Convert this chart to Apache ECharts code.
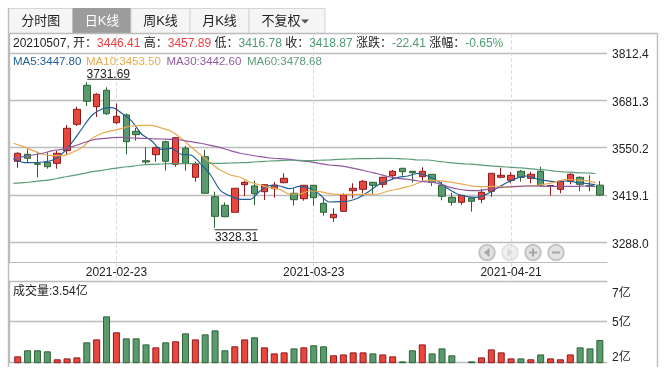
<!DOCTYPE html>
<html>
<head>
<meta charset="utf-8">
<style>
  html, body { margin: 0; padding: 0; background: #fff; }
  #main { width: 665px; height: 374px; }
</style>
<script src="https://cdn.jsdelivr.net/npm/echarts@6/dist/echarts.min.js"></script>
</head>
<body>
<div id="main"></div>
<script>
const dates = [
  '2021-02-02','2021-02-03','2021-02-04','2021-02-05','2021-02-08','2021-02-09','2021-02-10','2021-02-18','2021-02-19','2021-02-22',
  '2021-02-23','2021-02-24','2021-02-25','2021-02-26','2021-03-01','2021-03-02','2021-03-03','2021-03-04','2021-03-05','2021-03-08',
  '2021-03-09','2021-03-10','2021-03-11','2021-03-12','2021-03-15','2021-03-16','2021-03-17','2021-03-18','2021-03-19','2021-03-22',
  '2021-03-23','2021-03-24','2021-03-25','2021-03-26','2021-03-29','2021-03-30','2021-03-31','2021-04-01','2021-04-02','2021-04-06',
  '2021-04-07','2021-04-08','2021-04-09','2021-04-12','2021-04-13','2021-04-14','2021-04-15','2021-04-16','2021-04-19','2021-04-20',
  '2021-04-21','2021-04-22','2021-04-23','2021-04-26','2021-04-27','2021-04-28','2021-04-29','2021-04-30','2021-05-06','2021-05-07'
]
const dateLabels = ['2021-02-23', '2021-03-23', '2021-04-21']

// open, close, low, high
const kline = [
  [3512.6,3534.8,3494.8,3537.5],[3532.0,3520.9,3508.7,3545.8],[3505.9,3504.2,3468.2,3539.2],[3509.8,3497.6,3492.1,3537.5],
  [3507.0,3534.8,3492.1,3542.0],[3542.0,3604.1,3530.0,3613.2],[3615.1,3656.7,3610.4,3663.9],[3723.2,3678.9,3665.9,3731.69],
  [3663.9,3698.3,3635.4,3701.1],[3709.4,3644.5,3640.9,3717.7],[3619.6,3637.3,3616.0,3672.8],[3640.9,3566.9,3532.0,3645.1],
  [3595.7,3586.3,3569.7,3604.9],[3514.2,3510.6,3502.3,3551.4],[3530.9,3550.3,3511.5,3553.1],[3566.9,3512.6,3486.5,3569.7],
  [3504.2,3578.0,3497.6,3579.1],[3548.6,3507.0,3486.5,3555.0],[3468.2,3504.2,3456.0,3511.5],[3525.3,3423.9,3423.9,3543.9],
  [3414.4,3360.0,3328.31,3428.3],[3390.6,3359.0,3357.3,3398.9],[3371.2,3437.7,3370.6,3438.5],[3447.7,3454.4,3416.4,3458.8],
  [3444.1,3422.8,3391.4,3458.8],[3428.3,3447.7,3405.3,3448.3],[3436.6,3446.9,3411.7,3455.2],[3453.3,3465.5,3451.6,3479.3],
  [3423.9,3406.1,3389.5,3437.7],[3408.9,3446.0,3403.4,3446.9],[3446.0,3411.7,3389.5,3446.9],[3396.1,3371.2,3361.8,3412.8],
  [3356.2,3365.6,3345.2,3382.3],[3373.9,3419.2,3373.4,3423.9],[3431.1,3437.7,3410.0,3451.6],[3434.9,3457.1,3423.9,3460.7],
  [3454.4,3446.0,3421.9,3455.2],[3448.8,3468.2,3439.4,3469.9],[3472.7,3484.9,3462.7,3488.5],[3493.2,3483.7,3472.7,3494.0],
  [3484.9,3481.0,3453.3,3485.7],[3469.9,3484.9,3458.8,3495.9],[3476.5,3454.4,3444.1,3477.4],[3446.0,3415.6,3404.5,3456.0],
  [3412.8,3398.9,3389.5,3425.5],[3398.9,3418.3,3392.3,3419.2],[3410.8,3401.7,3372.9,3411.7],[3407.2,3426.6,3396.1,3435.8],
  [3429.4,3479.3,3414.4,3480.1],[3468.2,3473.8,3465.4,3494.8],[3459.9,3473.8,3451.6,3482.1],[3484.9,3468.2,3456.0,3488.5],
  [3465.4,3476.5,3451.6,3483.7],[3484.9,3446.0,3442.2,3497.6],[3444.1,3445.5,3417.2,3446.0],[3434.9,3457.1,3423.9,3458.0],
  [3457.1,3476.5,3448.8,3479.3],[3468.2,3448.8,3429.4,3471.0],[3444.9,3443.3,3429.4,3473.8],[3446.41,3418.87,3416.78,3457.89]
]

const ma5 = [
  3519.8,3509.8,3508.7,3510.6,3516.2,3534.8,3566.9,3604.9,3640.9,3657.6,
  3661.2,3645.6,3623.7,3588.2,3569.7,3545.8,3548.6,3532.0,3530.0,3505.1,
  3474.6,3431.1,3416.4,3407.2,3407.2,3430.2,3444.9,3444.1,3436.6,3443.3,
  3437.7,3421.9,3399.8,3400.6,3402.5,3411.7,3428.3,3447.7,3458.8,3468.2,
  3471.8,3479.3,3471.8,3458.0,3437.7,3421.9,3414.4,3412.8,3421.9,3437.7,
  3453.3,3465.4,3471.8,3464.3,3458.8,3456.0,3458.0,3454.4,3451.6,3447.8
]
const ma10 = [
  3562.5,3553.1,3542.0,3532.0,3528.1,3528.1,3537.5,3551.4,3576.3,3590.2,
  3597.4,3604.0,3610.4,3612.4,3612.4,3604.9,3595.7,3576.3,3553.1,3530.0,
  3507.9,3487.6,3474.6,3468.2,3454.4,3446.9,3439.4,3434.9,3421.9,3421.9,
  3430.2,3429.4,3422.8,3421.1,3421.1,3421.1,3421.1,3421.9,3430.2,3435.8,
  3442.2,3451.6,3459.9,3458.8,3456.0,3451.6,3446.9,3442.2,3442.2,3444.1,
  3441.3,3442.2,3444.1,3444.9,3449.7,3456.0,3462.7,3460.7,3458.8,3453.5
]
const ma30 = [
  3518.9,3525.3,3530.0,3534.8,3542.0,3545.8,3553.1,3562.5,3571.6,3575.2,
  3578.0,3579.1,3577.2,3576.3,3575.2,3574.4,3573.6,3571.6,3566.9,3562.5,
  3556.9,3550.3,3542.0,3534.8,3530.0,3525.3,3521.7,3519.8,3518.1,3514.2,
  3511.5,3507.0,3502.3,3500.4,3495.9,3490.4,3483.7,3477.4,3469.9,3465.4,
  3462.7,3458.0,3455.2,3451.6,3442.2,3435.8,3432.2,3431.1,3434.9,3438.6,
  3441.3,3443.3,3444.1,3444.1,3443.3,3443.3,3443.3,3443.3,3444.1,3442.6
]
const ma60 = [
  3451.6,3453.3,3456.0,3458.8,3462.7,3468.2,3472.7,3478.2,3483.7,3487.6,
  3492.0,3495.9,3498.7,3502.3,3504.2,3505.1,3505.9,3505.9,3505.9,3507.0,
  3507.0,3507.0,3507.9,3508.7,3509.8,3511.5,3513.4,3514.2,3515.4,3515.4,
  3514.2,3515.4,3516.2,3518.1,3518.9,3519.8,3519.8,3520.9,3520.9,3519.8,
  3518.9,3516.2,3516.2,3512.6,3509.8,3507.0,3505.1,3503.2,3500.4,3498.7,
  3496.8,3494.8,3493.2,3490.4,3488.5,3484.9,3482.9,3481.0,3480.1,3478.68
]

// 成交量, in 亿
const volume = [
  2.43,2.84,2.84,2.77,2.23,2.29,2.36,3.38,3.58,5.14,
  4.06,3.65,3.65,3.24,3.04,3.38,3.45,3.99,3.58,3.92,
  4.19,2.84,3.11,3.58,3.72,3.04,2.63,2.70,2.97,3.04,
  3.18,3.11,2.50,2.56,2.70,2.70,2.63,2.56,2.43,2.09,
  2.84,3.24,2.63,2.97,2.50,2.03,2.09,2.36,2.90,2.70,
  2.29,2.29,2.23,2.56,2.29,2.23,2.56,3.04,2.97,3.54
]

const priceTicks = [3288.0, 3419.1, 3550.2, 3681.3, 3812.4]
const volumeTicks = [2, 4.81, 7.49]
const volumeTickLabels = ['2亿', '5亿', '7亿']
const tabs = ['分时图', '日K线', '周K线', '月K线', '不复权']

const RED = '#e8473c'
const RED_DARK = '#8e1a1f'
const GREEN = '#5a9a6e'
const GREEN_DARK = '#2b6433'
const LINE = '#bcbcbc'
const TEXT = '#222'
const UP_TEXT = '#f03c3c'
const DOWN_TEXT = '#4f9a72'
const MA_COLORS = ['#215f96', '#e9a951', '#90599f', '#5b9c79']
const FONT = '"Liberation Sans", "Noto Sans CJK SC", sans-serif'
const PRICE_MIN = 3231.5
const PRICE_MAX = 3865.4

const chart = echarts.init(document.getElementById('main'))

const isMarked = (i, name) => dateLabels.includes(name)

const hiddenPriceAxis = (gridIndex) => ({
  gridIndex, type: 'value', show: false, min: PRICE_MIN, max: PRICE_MAX, splitLine: { show: false },
})
const hiddenCategoryAxis = (gridIndex) => ({
  gridIndex, type: 'category', data: dates, show: false,
})
const frameXAxis = (gridIndex, lineShow) => ({
  gridIndex, type: 'value', min: 0, max: 1,
  axisLine: { show: lineShow, onZero: false, lineStyle: { color: LINE } },
  axisTick: { show: false }, axisLabel: { show: false }, splitLine: { show: false },
})

const rich = {
  k: { color: TEXT, fontSize: 12, fontWeight: 'normal', fontFamily: FONT },
  r: { color: UP_TEXT, fontSize: 12, fontWeight: 'normal', fontFamily: FONT },
  g: { color: DOWN_TEXT, fontSize: 12, fontWeight: 'normal', fontFamily: FONT },
}
const infoRow = '{k|20210507, 开：}{r|3446.41} {k|高：}{r|3457.89} {k|低：}{g|3416.78} {k|收：}{g|3418.87} {k|涨跌：}{g|-22.41} {k|涨幅：}{g|-0.65%}'

const maRow = [
  { text: 'MA5:3447.80', left: 13, color: MA_COLORS[0] },
  { text: 'MA10:3453.50', left: 86, color: MA_COLORS[1] },
  { text: 'MA30:3442.60', left: 166.5, color: MA_COLORS[2] },
  { text: 'MA60:3478.68', left: 247, color: MA_COLORS[3] },
]

const extremes = [
  { value: 3731.69, index: 7, line: [22, -3], label: [21.5, -8] },
  { value: 3328.31, index: 20, line: [21, 2], label: [21.5, 9.5] },
]

const makeMaSeries = (name, data, color) => ({
  name, type: 'line', xAxisIndex: 2, yAxisIndex: 2, data, smooth: 0.3,
  symbol: 'none', silent: true, z: 5,
  lineStyle: { color, width: 1.2 },
})

// header tabs and the zoom buttons are plain page furniture
const tabEdges = [8.5, 73, 131, 190, 249, 325]
const tabGraphics = []
tabs.forEach((name, i) => {
  const active = i === 1
  const x = tabEdges[i]
  const w = tabEdges[i + 1] - x
  tabGraphics.push({
    type: 'rect', shape: { x, y: 8.5, width: w, height: 25 },
    style: { fill: active ? '#9c9c9c' : '#f5f5f5', stroke: active ? '#9c9c9c' : '#d6d6d6', lineWidth: 1 },
  })
  tabGraphics.push({
    type: 'text', x: x + w / 2 - (i === 4 ? 6 : 0), y: 21.5,
    style: { text: name, fill: active ? '#fff' : TEXT, font: '13px ' + FONT, textAlign: 'center', textVerticalAlign: 'middle' },
  })
})
tabGraphics.push({
  type: 'polygon', shape: { points: [[301, 19.5], [309, 19.5], [305, 23.5]] }, style: { fill: '#555' },
})

const frameLines = [
  [8.5, 8, 8.5, 367], [8.5, 33.5, 657.5, 33.5], [657.5, 33.5, 657.5, 367],
].map(([x1, y1, x2, y2]) => ({
  type: 'line', shape: { x1, y1, x2, y2 }, style: { stroke: LINE, lineWidth: 1.4 }, silent: true,
}))

const buttonGraphics = []
;[487, 510, 533, 556].forEach((cx, i) => {
  const faded = i === 1
  buttonGraphics.push({
    type: 'circle', shape: { cx, cy: 252.5, r: 7.8 },
    style: { fill: faded ? '#f0f0f0' : '#e2e2e2', stroke: faded ? '#e2e2e2' : '#c4c4c4', lineWidth: 2 },
  })
  const glyph = faded ? '#d8d8d8' : '#a6a6a6'
  if (i === 0) buttonGraphics.push({ type: 'polygon', shape: { points: [[484, 252.5], [489.5, 248], [489.5, 257]] }, style: { fill: glyph } })
  if (i === 1) buttonGraphics.push({ type: 'polygon', shape: { points: [[513, 252.5], [507.5, 248], [507.5, 257]] }, style: { fill: glyph } })
  if (i >= 2) buttonGraphics.push({ type: 'rect', shape: { x: cx - 4, y: 251.5, width: 8, height: 2 }, style: { fill: glyph } })
  if (i === 2) buttonGraphics.push({ type: 'rect', shape: { x: cx - 1, y: 248.5, width: 2, height: 8 }, style: { fill: glyph } })
})

const option = {
  animation: false,
  backgroundColor: '#fff',
  textStyle: { fontFamily: FONT },
  title: [
    { left: 13, top: 38, padding: 0, text: infoRow, textStyle: { rich, fontSize: 12, fontWeight: 'normal' } },
    ...maRow.map((m) => ({
      left: m.left, top: 56.5, padding: 0, text: m.text,
      textStyle: { color: m.color, fontSize: 11.5, fontWeight: 'normal', fontFamily: FONT },
    })),
    {
      left: 13, top: 285.5, padding: 0, text: '成交量:3.54亿',
      textStyle: { color: TEXT, fontSize: 12, fontWeight: 'normal', fontFamily: FONT },
    },
  ],
  graphic: { elements: [...tabGraphics, ...frameLines, ...buttonGraphics] },
  grid: [
    { left: 9, width: 598, top: 34, height: 228.7 },       // price frame, lines and labels
    { left: 12.8, width: 592, top: 34, height: 228.7 },    // candles
    { left: 8.4, width: 592, top: 34, height: 228.7 },     // moving averages
    { left: 9, width: 598, top: 281.7, height: 81 },       // volume frame
    { left: 12.8, width: 592, top: 281.7, height: 81 },    // volume bars
  ],
  xAxis: [
    frameXAxis(0, true),
    {
      gridIndex: 1, type: 'category', data: dates,
      axisLine: { show: false },
      axisTick: { show: true, interval: isMarked, alignWithLabel: true, length: 19, lineStyle: { color: '#dedede', type: 'dashed' } },
      axisLabel: { interval: isMarked, color: TEXT, fontSize: 12, margin: 4, fontFamily: FONT },
      splitLine: { show: true, interval: isMarked, alignWithLabel: true, lineStyle: { color: '#dedede', type: 'dashed' } },
    },
    hiddenCategoryAxis(2),
    { ...frameXAxis(3, true), position: 'top' },
    hiddenCategoryAxis(4),
  ],
  yAxis: [
    {
      gridIndex: 0, type: 'value', position: 'right', min: PRICE_MIN, max: PRICE_MAX,
      axisLine: { show: true, lineStyle: { color: LINE, width: 1.4 } },
      axisTick: { show: true, length: 4, customValues: priceTicks, lineStyle: { color: LINE } },
      axisLabel: {
        customValues: priceTicks, margin: 5, color: TEXT, fontSize: 12, fontFamily: FONT,
        formatter: (v) => '{p|' + v.toFixed(1) + '}',
        rich: { p: { padding: [4, 0, 0, 0], fontSize: 12, color: TEXT, fontFamily: FONT } },
      },
      splitLine: { show: true, lineStyle: { color: LINE, width: 1.4 } },
    },
    hiddenPriceAxis(1),
    hiddenPriceAxis(2),
    {
      gridIndex: 3, type: 'value', position: 'right', min: volumeTicks[0], max: volumeTicks[2],
      axisLine: { show: true, lineStyle: { color: LINE, width: 1.4 } },
      axisTick: { show: true, length: 4, customValues: volumeTicks, lineStyle: { color: LINE } },
      axisLabel: {
        customValues: volumeTicks, margin: 5, color: TEXT, fontSize: 12, fontFamily: FONT,
        formatter: (v) => {
          const label = volumeTickLabels[volumeTicks.indexOf(v)]
          return v === volumeTicks[2] ? '{top|' + label + '}' : v === volumeTicks[0] ? '{bottom|' + label + '}' : '{mid|' + label + '}'
        },
        rich: {
          top: { padding: [23, 0, 0, 0], fontSize: 12, color: TEXT, fontFamily: FONT },
          mid: { padding: [3, 0, 0, 0], fontSize: 12, color: TEXT, fontFamily: FONT },
          bottom: { padding: [0, 0, 11, 0], fontSize: 12, color: TEXT, fontFamily: FONT },
        },
      },
      splitLine: { show: true, lineStyle: { color: LINE, width: 1.4 } },
    },
    { gridIndex: 4, type: 'value', show: false, min: volumeTicks[0], max: volumeTicks[2], splitLine: { show: false } },
  ],
  series: [
    {
      name: '日K', type: 'candlestick', xAxisIndex: 1, yAxisIndex: 1, data: kline, barWidth: 7, z: 3,
      itemStyle: { color: RED, color0: GREEN, borderColor: RED_DARK, borderColor0: GREEN_DARK, borderWidth: 1 },
      markPoint: {
        silent: true, animation: false,
        data: extremes.flatMap((e) => [
          {
            coord: [dates[e.index], e.value], symbol: 'rect', symbolSize: [43, 1], symbolOffset: e.line,
            itemStyle: { color: '#333' }, label: { show: false },
          },
          {
            coord: [dates[e.index], e.value], symbol: 'circle', symbolSize: 0,
            label: {
              show: true, position: 'inside', offset: e.label, color: TEXT, fontSize: 12, fontFamily: FONT,
              formatter: e.value.toFixed(2),
            },
          },
        ]),
      },
    },
    makeMaSeries('MA5', ma5, MA_COLORS[0]),
    makeMaSeries('MA10', ma10, MA_COLORS[1]),
    makeMaSeries('MA30', ma30, MA_COLORS[2]),
    makeMaSeries('MA60', ma60, MA_COLORS[3]),
    {
      name: '成交量', type: 'bar', xAxisIndex: 4, yAxisIndex: 4, barWidth: 7,
      data: volume.map((v, i) => {
        const up = kline[i][1] >= kline[i][0]
        return { value: v, itemStyle: { color: up ? RED : GREEN, borderColor: up ? RED_DARK : GREEN_DARK, borderWidth: 1 } }
      }),
    },
  ],
}

chart.setOption(option)
</script>
</body>
</html>
